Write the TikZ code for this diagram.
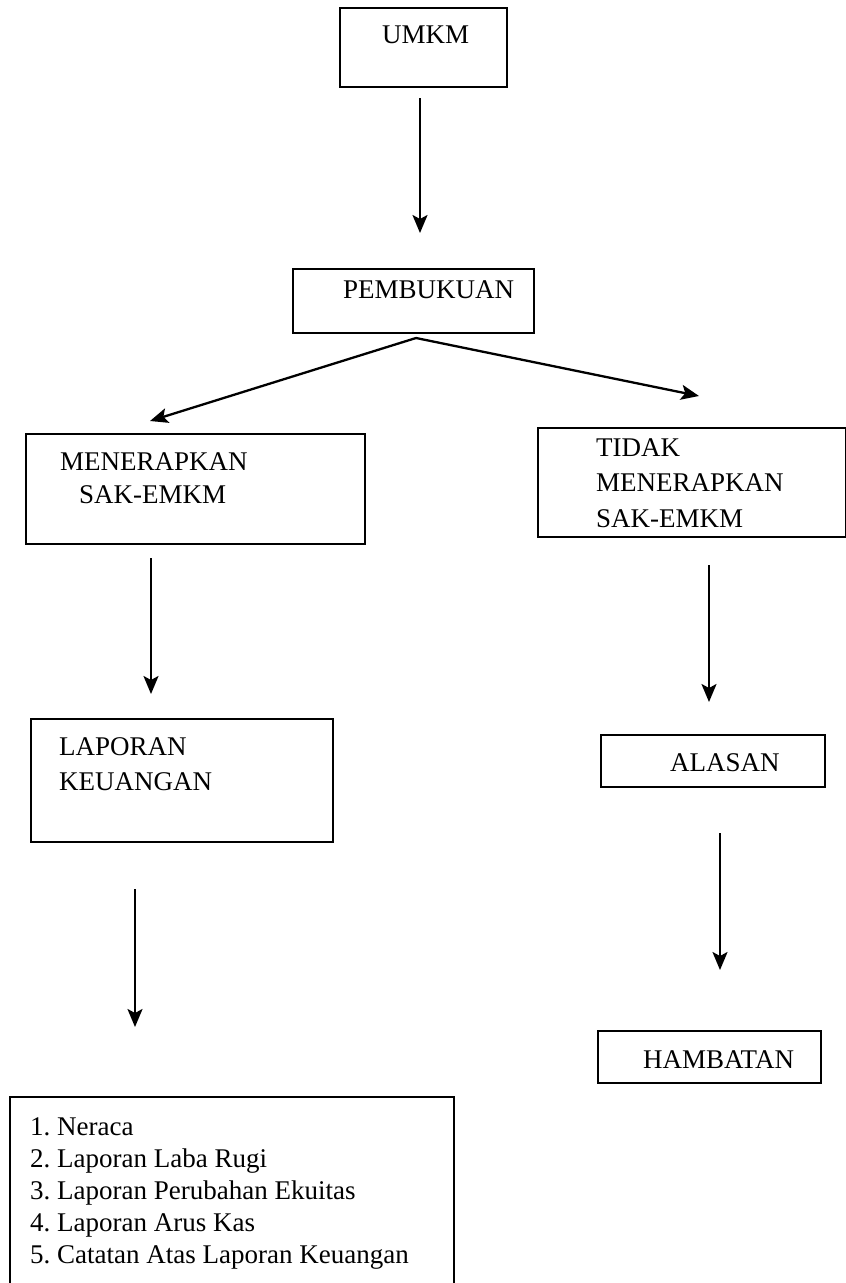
\documentclass[tikz,border=0pt]{standalone}
\usepackage{fontspec}
\setmainfont{Liberation Serif}
\usetikzlibrary{arrows.meta}
\frenchspacing
\begin{document}
\begin{tikzpicture}[x=1pt,y=-1pt,
  box/.style={draw, line width=1.7pt, inner sep=0pt},
  txt/.style={anchor=base west, inner sep=0pt, font=\fontsize{27pt}{#1}\selectfont, align=left},
  txt/.default={35pt},
  arr/.style={line width=2.3pt, -{Stealth[length=18pt,width=15pt,inset=4pt]}}]
\useasboundingbox (0,0) rectangle (846,1283);
\clip (0,0) rectangle (846,1283);
% boxes
\node[box, minimum width=167pt, minimum height=79pt] (umkm) at (423.5,47.5) {};
\node[box, minimum width=241pt, minimum height=64pt] (pemb) at (413.5,301) {};
\node[box, minimum width=339pt, minimum height=110pt] (men) at (195.5,489) {};
\node[box, minimum width=308pt, minimum height=109pt] (tidak) at (692,482.5) {};
\node[box, minimum width=302pt, minimum height=123pt] (lap) at (182,780.5) {};
\node[box, minimum width=224pt, minimum height=52pt] (alasan) at (713,761) {};
\node[box, minimum width=223pt, minimum height=52pt] (hamb) at (709.5,1057) {};
\node[box, minimum width=444pt, minimum height=220pt] (list) at (232,1207) {};
% texts (anchor at the baseline of the last line)
\node[txt] (tumkm) at (382,43) {UMKM};
\node[txt] (tpemb) at (343,298) {PEMBUKUAN};
\node[txt=33pt] (tmen) at (60,503) {MENERAPKAN\\\hspace*{19pt}SAK-EMKM};
\node[txt=35.5pt] (ttidak) at (596,527) {TIDAK\\MENERAPKAN\\SAK-EMKM};
\node[txt=35pt] (tlap) at (59,790) {LAPORAN\\KEUANGAN};
\node[txt] (talasan) at (670,771) {ALASAN};
\node[txt] (thamb) at (643,1068) {HAMBATAN};
\node[txt=32pt] (tlist) at (30,1263) {1. Neraca\\2. Laporan Laba Rugi\\3. Laporan Perubahan Ekuitas\\4. Laporan Arus Kas\\5. Catatan Atas Laporan Keuangan};
% connector ends
\coordinate (a1s) at (420,98);   \coordinate (a1e) at (420,233);
\coordinate (bs) at (416,338);
\coordinate (a2e) at (150,421);
\coordinate (a3e) at (699,396);
\coordinate (a4s) at (151,558);  \coordinate (a4e) at (151,694);
\coordinate (a5s) at (709,565);  \coordinate (a5e) at (709,702);
\coordinate (a6s) at (135,889);  \coordinate (a6e) at (135,1027);
\coordinate (a7s) at (720,833);  \coordinate (a7e) at (720,970);
\draw[arr] (a1s) -- (a1e);
\draw[arr] (bs) -- (a2e);
\draw[arr] (bs) -- (a3e);
\draw[arr] (a4s) -- (a4e);
\draw[arr] (a5s) -- (a5e);
\draw[arr] (a6s) -- (a6e);
\draw[arr] (a7s) -- (a7e);
\end{tikzpicture}
\end{document}
